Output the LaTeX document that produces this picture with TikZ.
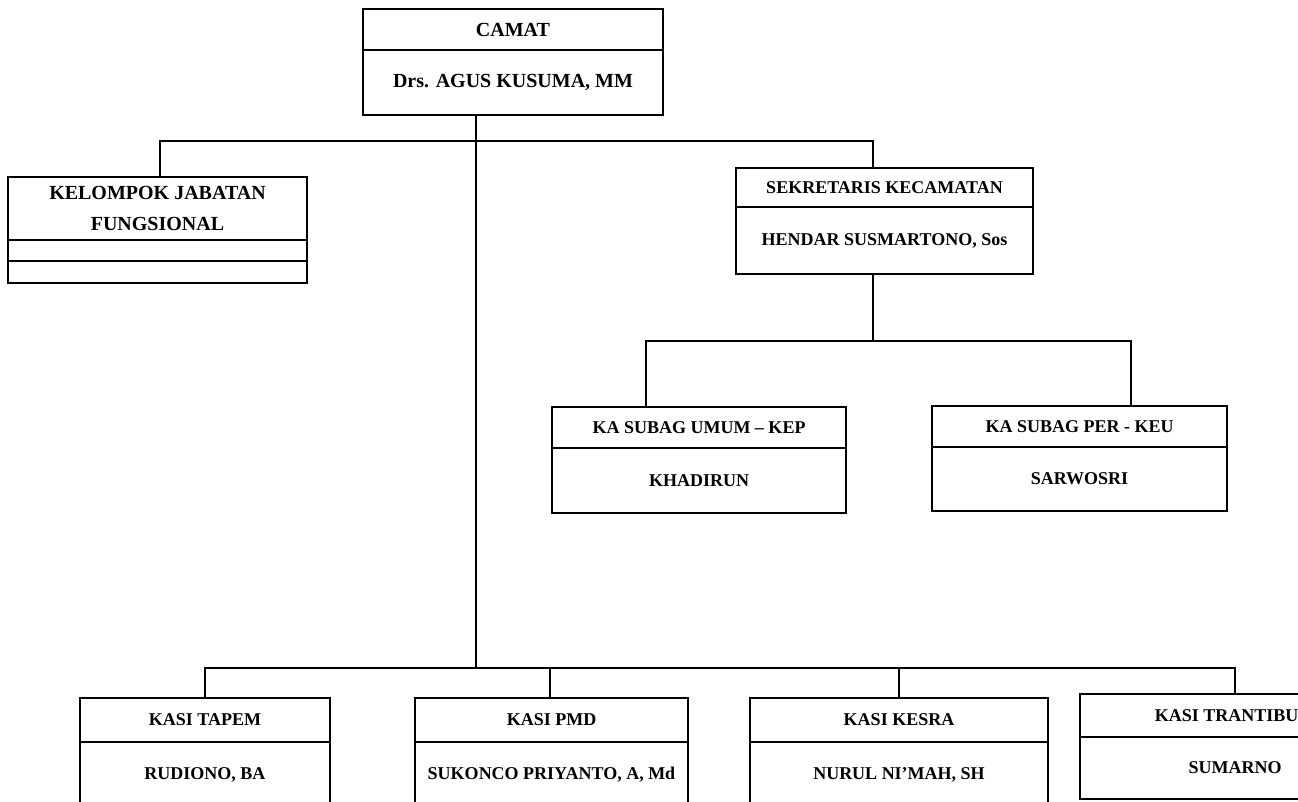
\documentclass[tikz,border=0pt]{standalone}
\usepackage{fontspec}
\setmainfont{Liberation Serif}
\usetikzlibrary{positioning}

\begin{document}
\begin{tikzpicture}[x=1pt,y=-1pt,line width=1.8pt,
	jabatan/.style={draw,inner sep=0pt,outer sep=0pt,align=center,font=\bfseries\fontsize{18}{24}\selectfont},
	besar/.style={font=\bfseries\fontsize{20}{31}\selectfont}]
	\useasboundingbox (0,0) rectangle (1298,802);
	\fill[white] (0,0) rectangle (1298,802);
	\clip (0,0) rectangle (1298,802);
	% camat
	\node[jabatan,besar,minimum width=300pt,minimum height=41pt] (camat) at (513,29.5) {CAMAT};
	\node[jabatan,besar,minimum width=300pt,minimum height=65pt,below=0pt of camat] (camatnm) {Drs. AGUS KUSUMA, MM};
	% kelompok jabatan fungsional
	\node[jabatan,besar,minimum width=299pt,minimum height=63pt] (kel) at (157.5,208.5) {KELOMPOK JABATAN\\FUNGSIONAL};
	\node[jabatan,minimum width=299pt,minimum height=21pt,below=0pt of kel] (kela) {};
	\node[jabatan,minimum width=299pt,minimum height=22pt,below=0pt of kela] (kelb) {};
	% sekretaris
	\node[jabatan,minimum width=297pt,minimum height=39pt] (sek) at (884.5,187.5) {SEKRETARIS KECAMATAN};
	\node[jabatan,minimum width=297pt,minimum height=67pt,below=0pt of sek] (seknm) {HENDAR SUSMARTONO, Sos};
	\node[jabatan,minimum width=294pt,minimum height=41pt] (umum) at (699,427.5) {KA SUBAG UMUM -- KEP};
	\node[jabatan,minimum width=294pt,minimum height=65pt,below=0pt of umum] (umumnm) {KHADIRUN};
	\node[jabatan,minimum width=295pt,minimum height=41pt] (keu) at (1079.5,426.5) {KA SUBAG PER - KEU};
	\node[jabatan,minimum width=295pt,minimum height=64pt,below=0pt of keu] (keunm) {SARWOSRI};
	% kasi
	\node[jabatan,minimum width=250pt,minimum height=44pt] (tapem) at (205,720) {KASI TAPEM};
	\node[jabatan,minimum width=250pt,minimum height=66pt,below=0pt of tapem] (tapemnm) {RUDIONO, BA};
	\node[jabatan,minimum width=273pt,minimum height=44pt] (pmd) at (551.5,720) {KASI PMD};
	\node[jabatan,minimum width=273pt,minimum height=66pt,below=0pt of pmd] (pmdnm) {SUKONCO PRIYANTO, A, Md};
	\node[jabatan,minimum width=298pt,minimum height=44pt] (kesra) at (899,720) {KASI KESRA};
	\node[jabatan,minimum width=298pt,minimum height=66pt,below=0pt of kesra] (kesranm) {NURUL NI’MAH, SH};
	\node[jabatan,minimum width=310pt,minimum height=43pt] (trantib) at (1235,715.5) {KASI TRANTIBUM};
	\node[jabatan,minimum width=310pt,minimum height=62pt,below=0pt of trantib] (trantibnm) {SUMARNO};
	% garis
	\coordinate (atas) at (476,141);
	\coordinate (bawah) at (476,668);
	\coordinate (tengah) at (873,341);
	\draw (camatnm.south -| atas) -- (bawah);
	\draw ([xshift=2.5pt]kel.north) |- (atas) -| ([xshift=-11.5pt]sek.north);
	\draw ([xshift=-11.5pt]seknm.south) -- (tengah);
	\draw ([xshift=-53pt]umum.north) |- (tengah) -| ([xshift=51.5pt]keu.north);
	\draw (tapem.north) |- (bawah) -| (trantib.north);
	\draw ([xshift=-1.5pt]pmd.north) -- ([xshift=-1.5pt]pmd.north |- bawah);
	\draw (kesra.north) -- (kesra.north |- bawah);
\end{tikzpicture}
\end{document}
